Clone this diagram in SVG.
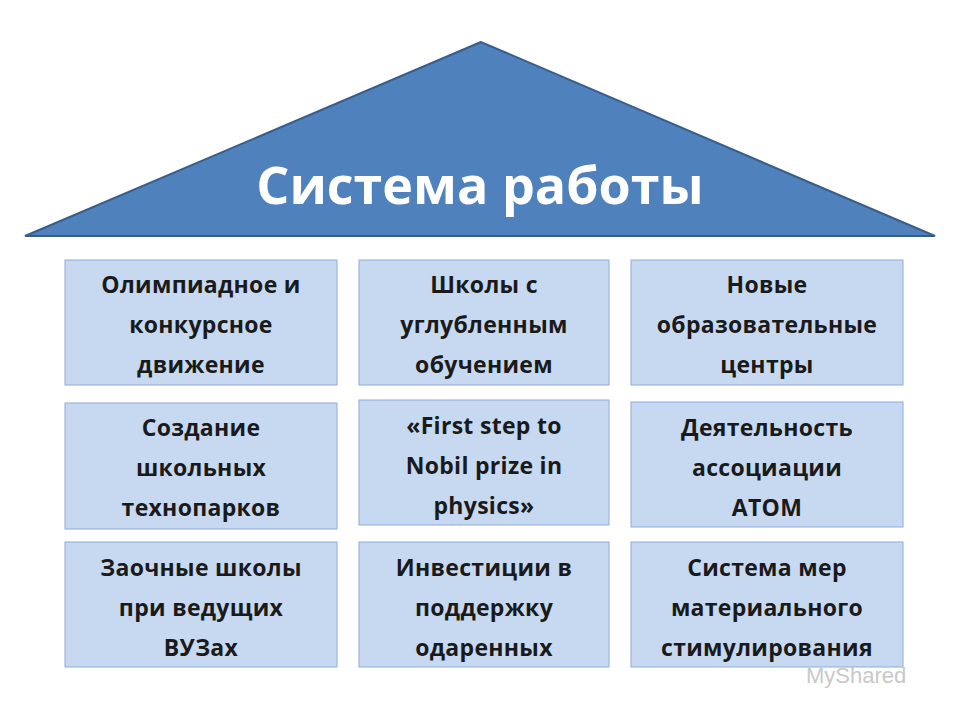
<svg xmlns="http://www.w3.org/2000/svg" width="960" height="720" viewBox="0 0 960 720">
<style>
.b{fill:#c6d9f1;stroke:#8eaadb;stroke-width:1}
.t{font-family:"Open Sans","Liberation Sans",sans-serif;font-weight:bold;font-size:23px;letter-spacing:0.3px;fill:#1a1a1a;text-anchor:middle}
</style>
<rect width="960" height="720" fill="#fff"/>
<g id="roof">
<polygon points="481,42 25,236 935,236" fill="#4f81bd" stroke="#385d8a" stroke-width="2"/>
<text x="480" y="204" font-family="'Open Sans','Liberation Sans',sans-serif" font-weight="bold" font-size="52" fill="#fff" text-anchor="middle">Система работы</text>
</g>
<g id="n1"><rect class="b" x="65" y="260" width="272" height="125"/><text class="t"><tspan x="201" y="293">Олимпиадное и</tspan><tspan x="201" y="333">конкурсное</tspan><tspan x="201" y="373">движение</tspan></text></g>
<g id="n2"><rect class="b" x="359" y="260" width="250" height="125"/><text class="t"><tspan x="484" y="293">Школы с</tspan><tspan x="484" y="333">углубленным</tspan><tspan x="484" y="373">обучением</tspan></text></g>
<g id="n3"><rect class="b" x="631" y="260" width="272" height="125"/><text class="t"><tspan x="767" y="293">Новые</tspan><tspan x="767" y="333">образовательные</tspan><tspan x="767" y="373">центры</tspan></text></g>
<g id="n4"><rect class="b" x="65" y="403" width="272" height="126"/><text class="t"><tspan x="201" y="436">Создание</tspan><tspan x="201" y="476">школьных</tspan><tspan x="201" y="516">технопарков</tspan></text></g>
<g id="n5"><rect class="b" x="359" y="400" width="250" height="125"/><text class="t"><tspan x="484" y="434">«First step to</tspan><tspan x="484" y="474">Nobil prize in</tspan><tspan x="484" y="514">physics»</tspan></text></g>
<g id="n6"><rect class="b" x="631" y="402" width="272" height="125"/><text class="t"><tspan x="767" y="436">Деятельность</tspan><tspan x="767" y="476">ассоциации</tspan><tspan x="767" y="516">АТОМ</tspan></text></g>
<g id="n7"><rect class="b" x="65" y="542" width="272" height="125"/><text class="t"><tspan x="201" y="576">Заочные школы</tspan><tspan x="201" y="616">при ведущих</tspan><tspan x="201" y="656">ВУЗах</tspan></text></g>
<g id="n8"><rect class="b" x="359" y="542" width="250" height="125"/><text class="t"><tspan x="484" y="576">Инвестиции в</tspan><tspan x="484" y="616">поддержку</tspan><tspan x="484" y="656">одаренных</tspan></text></g>
<g id="n9"><rect class="b" x="631" y="542" width="272" height="125"/><text class="t"><tspan x="767" y="576">Система мер</tspan><tspan x="767" y="616">материального</tspan><tspan x="767" y="656">стимулирования</tspan></text></g>
<g id="connectors"></g>
<text x="806" y="683" font-family="'Liberation Sans',sans-serif" font-size="22" fill="#bbbbbb" opacity="0.8">MyShared</text>
</svg>
